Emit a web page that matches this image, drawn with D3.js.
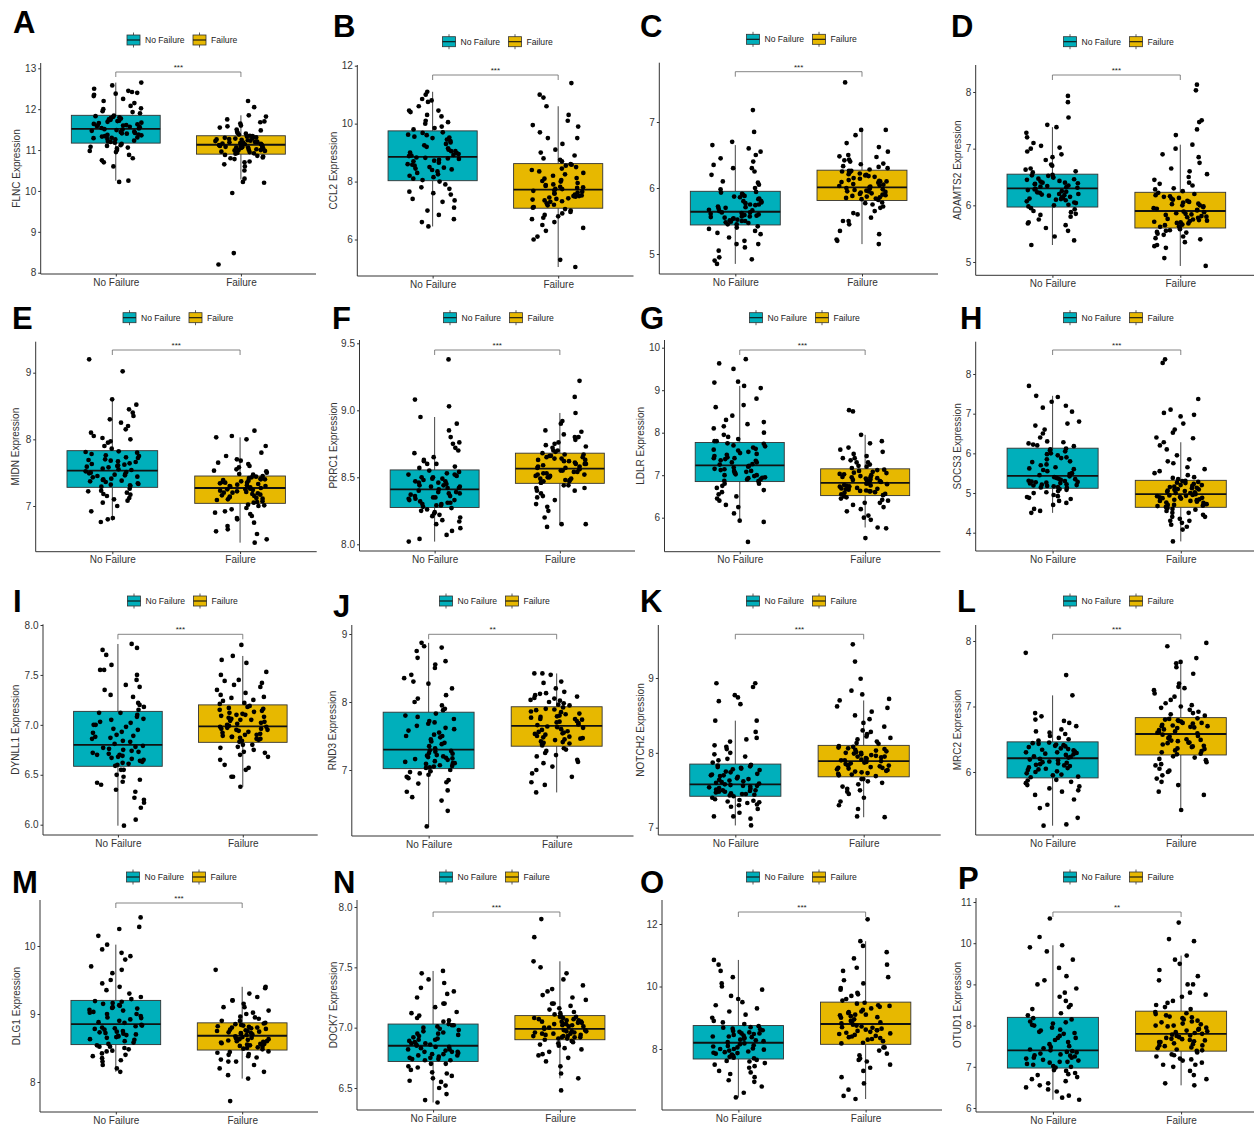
<!DOCTYPE html>
<html><head><meta charset="utf-8">
<script src="https://cdn.jsdelivr.net/npm/d3@7"></script>
<style>
body{margin:0;background:#fff}
svg{display:block}
text{font-family:"Liberation Sans",Arial,sans-serif}
</style>
</head><body>
<svg id="chart" width="1254" height="1127"></svg>
<script>
// ---------------- DATA ----------------
const groups = ["No Failure", "Failure"];
const groupColors = ["#00AFBB", "#E7B800"];
const panelLetters = ["A","B","C","D","E","F","G","H","I","J","K","L","M","N","O","P"];
const genes = ["FLNC","CCL2","TAGLN","ADAMTS2","MIDN","PRRC1","LDLR","SOCS3","DYNLL1","RND3","NOTCH2","MRC2","DLG1","DOCK7","LOXL1","OTUD1"];
const sigLabels = ["***","***","***","***","***","***","***","***","***","**","***","***","***","***","***","**"];
const yTicks = [
  [8,9,10,11,12,13],[6,8,10,12],[5,6,7],[5,6,7,8],
  [7,8,9],[8.0,8.5,9.0,9.5],[6,7,8,9,10],[4,5,6,7,8],
  [6.0,6.5,7.0,7.5,8.0],[7,8,9],[7,8,9],[6,7,8],
  [8,9,10],[6.5,7.0,7.5,8.0],[8,10,12],[6,7,8,9,10,11]
];
const tickDecimals = [0,0,0,0, 0,1,0,0, 1,0,0,0, 0,1,0,0];
// box statistics: [lower whisker, Q1, median, Q3, upper whisker]
const boxNoFailure = [
  [10.25,11.17,11.52,11.85,12.65],[6.45,8.03,8.85,9.75,11.1],[4.85,5.44,5.64,5.95,6.65],[5.3,5.97,6.3,6.55,7.38],
  [6.78,7.28,7.53,7.83,8.6],[8.02,8.275,8.41,8.555,8.95],[5.9,6.85,7.23,7.77,9.1],[4.5,5.12,5.43,6.13,7.45],
  [5.99,6.585,6.8,7.135,7.81],[6.17,7.02,7.3,7.85,8.87],[7.03,7.42,7.58,7.85,8.43],[5.18,5.91,6.21,6.46,7.17],
  [8.15,8.55,8.85,9.2,10.02],[6.38,6.72,6.85,7.03,7.47],[6.45,7.68,8.2,8.75,10.85],[6.2,6.97,7.4,8.2,9.95]
];
const boxFailure = [
  [10.28,10.9,11.13,11.35,11.85],[5.05,7.08,7.72,8.62,10.6],[5.15,5.81,6.01,6.27,6.88],[4.93,5.6,5.9,6.23,7.07],
  [6.45,7.04,7.27,7.45,8.03],[8.15,8.455,8.565,8.68,8.98],[5.77,6.52,6.82,7.15,7.95],[3.78,4.64,4.97,5.32,6.28],
  [6.38,6.825,6.985,7.2,7.69],[6.67,7.35,7.65,7.93,8.42],[7.14,7.68,7.89,8.1,8.7],[5.42,6.26,6.58,6.83,7.68],
  [8.05,8.47,8.68,8.87,9.4],[6.58,6.9,6.99,7.1,7.55],[6.4,8.15,8.8,9.5,11.45],[6.55,7.38,7.8,8.35,9.7]
];

// sample points (estimated from the jittered dots)
const flncNF = [10.25,10.22,10.6,10.7,10.8,10.88,10.95,11.0,11.04,11.08,11.12,11.15,11.2,11.23,11.27,11.3,11.33,11.36,11.4,11.42,11.45,11.47,11.5,11.38,11.54,11.57,11.6,11.63,11.66,11.69,11.72,11.75,11.78,11.8,11.83,11.6,11.9,11.95,12.0,12.08,12.15,12.25,12.32,12.38,12.42,12.45,12.5,12.58,12.65,12.4,
  11.18,11.21,11.26,11.29,11.31,11.34,11.37,11.41,11.44,11.49,11.51,11.53,11.56,11.59,11.61,11.64,11.67,11.71,11.74,11.77,11.81,11.84,10.98,11.06,11.1,10.75,11.93,12.02,12.2,12.35];
const flncF = [8.2,8.48,9.95,10.2,10.22,10.3,10.5,10.6,10.7,10.78,10.82,10.86,10.88,10.92,10.95,10.98,11.0,11.03,11.05,11.07,11.09,11.1,11.12,11.06,11.0,11.14,11.16,11.18,11.2,11.22,11.24,11.26,11.28,11.3,11.32,11.34,11.2,11.38,11.42,11.45,11.5,11.55,11.6,11.65,11.7,11.75,11.82,11.85,12.05,12.2,
  10.91,10.93,10.96,10.99,11.01,11.04,11.06,11.08,11.11,11.13,11.15,11.17,11.19,11.21,11.23,11.25,11.27,11.29,11.31,11.33,11.35,11.02,11.09,10.8,10.84,10.72,10.65,11.4,11.48,11.58,11.68];
const ccl2NF = [6.45,6.6,6.7,6.85,7.1,7.3,7.4,7.55,7.65,7.8,7.9,8.0,8.1,8.2,8.3,8.4,8.5,8.55,8.6,8.7,8.75,8.8,8.83,8.45,8.9,8.95,9.0,9.1,9.2,9.3,9.4,9.5,9.55,9.6,9.7,9.05,9.8,9.9,10.0,10.1,10.25,10.4,10.45,10.6,10.75,10.85,11.0,11.1,10.45,
  8.05,8.15,8.25,8.35,8.42,8.48,8.58,8.65,8.72,8.78,8.82,8.88,8.92,8.98,9.05,9.15,9.25,9.35,9.45,9.52,9.62,9.68,7.6,7.75,7.35,7.0,9.85,10.05,10.3,10.8];
const ccl2F = [5.05,5.3,6.0,6.1,6.3,6.4,6.6,6.7,6.8,6.9,7.0,7.05,7.1,7.2,7.3,7.35,7.4,7.45,7.5,7.55,7.6,7.65,7.7,7.5,7.75,7.8,7.9,8.0,8.05,8.1,8.2,8.3,8.4,8.5,8.55,8.6,7.85,8.7,8.8,8.9,9.1,9.3,9.5,9.7,9.9,10.1,10.3,10.6,10.9,11.0,11.4,
  7.12,7.18,7.25,7.32,7.38,7.42,7.48,7.52,7.58,7.62,7.68,7.74,7.78,7.82,7.88,7.95,8.02,8.12,8.25,8.35,8.45,8.58,6.95,6.85,6.75,6.5,8.75,9.0,9.5,9.95];
const taglnNF = [4.85,4.9,4.92,4.95,5.05,5.1,5.15,5.2,5.3,5.35,5.4,5.42,5.45,5.48,5.5,5.52,5.54,5.56,5.58,5.6,5.62,5.63,5.5,5.57,5.66,5.7,5.72,5.75,5.78,5.8,5.83,5.86,5.88,5.9,5.93,5.75,6.0,6.05,6.1,6.2,6.25,6.3,6.35,6.45,6.5,6.6,6.65,6.7,6.85,7.18,
  5.45,5.47,5.49,5.51,5.53,5.55,5.57,5.59,5.61,5.63,5.65,5.67,5.69,5.71,5.74,5.77,5.8,5.84,5.87,5.91,5.94,5.38,5.32,5.25,5.15,5.98,6.08,6.3,6.55,6.4];
const taglnF = [5.15,5.2,5.22,5.3,5.35,5.45,5.5,5.55,5.6,5.65,5.7,5.75,5.78,5.83,5.86,5.88,5.9,5.92,5.94,5.96,5.98,6.0,5.85,5.95,6.03,6.05,6.08,6.1,6.12,6.15,6.18,6.2,6.22,6.25,6.26,6.1,6.3,6.33,6.37,6.4,6.43,6.47,6.5,6.55,6.62,6.68,6.8,6.88,6.88,7.6,
  5.82,5.84,5.87,5.89,5.91,5.93,5.95,5.97,5.99,6.01,6.02,6.04,6.06,6.09,6.11,6.14,6.17,6.19,6.21,6.24,6.26,5.77,5.72,5.62,5.5,6.28,6.32,6.36,6.42,6.48];
const adamts2NF = [5.3,5.38,5.45,5.55,5.6,5.65,5.7,5.8,5.85,5.9,5.93,5.95,6.0,6.05,6.1,6.13,6.15,6.18,6.2,6.23,6.25,6.28,6.12,6.2,6.32,6.35,6.38,6.4,6.42,6.45,6.47,6.5,6.52,6.54,6.4,6.33,6.6,6.65,6.72,6.8,6.85,6.9,7.0,7.05,7.1,7.2,7.28,7.38,7.42,7.55,7.82,7.93,
  5.98,6.01,6.04,6.07,6.09,6.11,6.14,6.17,6.19,6.22,6.24,6.27,6.29,6.31,6.34,6.37,6.39,6.43,6.46,6.49,6.53,5.88,5.83,5.75,5.68,6.58,6.63,6.7,6.95,7.02];
const adamts2F = [4.93,5.07,5.25,5.28,5.3,5.35,5.4,5.45,5.5,5.52,5.55,5.58,5.62,5.65,5.68,5.7,5.73,5.75,5.78,5.8,5.83,5.85,5.88,5.72,5.92,5.95,5.98,6.0,6.03,6.06,6.1,6.13,6.16,6.2,6.22,6.05,6.28,6.35,6.4,6.45,6.55,6.65,6.75,6.85,6.9,7.0,7.07,7.24,7.34,7.47,7.5,8.03,8.13,
  5.61,5.63,5.66,5.69,5.71,5.74,5.76,5.79,5.81,5.84,5.86,5.89,5.91,5.94,5.97,6.0,6.02,6.08,6.12,6.15,6.18,5.56,5.53,5.48,5.42,6.25,6.3,6.38,6.5,6.6];
const midnNF = [6.76,6.8,6.82,6.92,7.0,7.05,7.1,7.15,7.18,7.2,7.23,7.26,7.3,7.33,7.36,7.4,7.43,7.45,7.48,7.5,7.52,7.38,7.46,7.32,7.55,7.58,7.6,7.63,7.66,7.68,7.7,7.73,7.76,7.8,7.82,7.62,7.9,7.97,8.0,8.05,8.15,8.2,8.3,8.35,8.4,8.45,8.52,8.6,9.02,9.2,
  7.29,7.31,7.34,7.37,7.39,7.41,7.44,7.47,7.49,7.51,7.54,7.56,7.59,7.61,7.64,7.67,7.69,7.72,7.75,7.78,7.81,7.22,7.17,7.12,7.08,7.86,7.95,8.02,8.1,8.25];
const midnF = [6.45,6.5,6.58,6.65,6.7,6.75,6.8,6.85,6.9,6.95,7.0,7.02,7.06,7.1,7.12,7.15,7.18,7.2,7.22,7.24,7.26,7.14,7.2,7.25,7.28,7.3,7.32,7.34,7.36,7.38,7.4,7.42,7.44,7.3,7.35,7.4,7.48,7.52,7.55,7.6,7.65,7.7,7.75,7.8,7.9,8.0,8.03,8.05,8.13,
  7.05,7.07,7.09,7.11,7.13,7.16,7.17,7.19,7.21,7.23,7.25,7.27,7.29,7.31,7.33,7.35,7.37,7.39,7.41,7.43,7.45,7.01,6.97,6.92,6.88,7.47,7.5,7.53,7.58,7.63,7.68,6.82,6.62];
const prrc1NF = [8.02,8.04,8.07,8.1,8.12,8.15,8.18,8.2,8.22,8.24,8.26,8.27,8.29,8.31,8.33,8.35,8.36,8.38,8.39,8.4,8.3,8.34,8.37,8.32,8.42,8.44,8.46,8.48,8.49,8.5,8.52,8.54,8.45,8.47,8.5,8.43,8.58,8.6,8.62,8.65,8.7,8.72,8.76,8.8,8.85,8.9,8.95,9.03,9.08,9.38,
  8.28,8.29,8.3,8.31,8.33,8.34,8.35,8.36,8.38,8.39,8.41,8.42,8.43,8.44,8.46,8.47,8.49,8.51,8.52,8.53,8.55,8.25,8.23,8.21,8.17,8.57,8.6,8.63,8.68,8.75];
const prrc1F = [8.13,8.15,8.15,8.2,8.25,8.28,8.3,8.33,8.36,8.38,8.4,8.42,8.44,8.46,8.48,8.5,8.52,8.53,8.54,8.55,8.56,8.49,8.51,8.47,8.57,8.58,8.6,8.61,8.62,8.63,8.64,8.65,8.66,8.67,8.6,8.64,8.7,8.72,8.74,8.76,8.78,8.8,8.82,8.85,8.9,8.92,8.98,9.1,9.22,
  8.46,8.47,8.48,8.49,8.5,8.51,8.52,8.53,8.54,8.55,8.56,8.57,8.58,8.59,8.6,8.62,8.63,8.65,8.66,8.67,8.68,8.44,8.42,8.4,8.35,8.69,8.7,8.73,8.75,8.8,8.84];
const ldlrNF = [5.43,5.9,5.93,6.1,6.25,6.3,6.4,6.5,6.55,6.6,6.7,6.8,6.87,6.9,6.95,7.0,7.05,7.1,7.12,7.15,7.2,7.0,7.08,6.93,7.25,7.3,7.35,7.4,7.45,7.5,7.55,7.6,7.65,7.7,7.75,7.4,7.8,7.9,8.0,8.1,8.2,8.25,8.4,8.6,8.65,8.8,9.05,9.1,9.18,9.2,9.5,9.63,9.73,
  6.86,6.9,6.94,6.98,7.02,7.06,7.1,7.14,7.18,7.22,7.26,7.3,7.34,7.38,7.42,7.48,7.52,7.58,7.62,7.68,7.74,6.8,6.75,6.65,6.45,7.8,7.85,7.95,8.15,8.3];
const ldlrF = [5.52,5.75,5.77,5.95,6.0,6.05,6.15,6.2,6.3,6.35,6.4,6.45,6.5,6.55,6.6,6.63,6.66,6.7,6.73,6.76,6.8,6.68,6.75,6.62,6.85,6.88,6.9,6.93,6.96,7.0,7.03,7.06,7.1,7.13,6.95,7.05,7.2,7.25,7.3,7.35,7.4,7.45,7.5,7.6,7.65,7.75,7.8,7.95,8.5,8.53,
  6.53,6.56,6.59,6.62,6.64,6.67,6.69,6.72,6.74,6.77,6.79,6.81,6.84,6.86,6.89,6.92,6.95,6.98,7.02,7.08,7.12,6.48,6.42,6.35,6.25,7.17,7.22,7.3,7.4,7.55];
const socs3NF = [4.5,4.55,4.6,4.7,4.75,4.8,4.88,4.9,4.95,5.0,5.05,5.1,5.14,5.17,5.2,5.22,5.25,5.28,5.3,5.33,5.36,5.4,5.18,5.26,5.48,5.55,5.6,5.65,5.72,5.8,5.85,5.9,5.95,6.0,6.08,6.12,6.2,6.25,6.3,6.5,6.6,6.7,6.8,7.05,7.15,7.2,7.3,7.45,7.42,7.7,
  5.13,5.15,5.19,5.21,5.24,5.27,5.29,5.31,5.35,5.38,5.42,5.45,5.5,5.58,5.62,5.7,5.78,5.88,5.98,6.05,6.1,5.08,5.02,4.92,4.85,6.18,6.22,6.28,6.4,6.75];
const socs3F = [3.78,4.08,4.15,4.2,4.25,4.3,4.35,4.4,4.45,4.5,4.55,4.6,4.68,4.72,4.76,4.8,4.84,4.88,4.9,4.93,4.95,4.7,4.82,4.87,5.0,5.03,5.06,5.1,5.13,5.16,5.2,5.23,5.26,5.3,5.08,5.18,5.38,5.45,5.55,5.65,5.75,5.85,5.95,6.1,6.2,6.28,6.38,6.4,6.52,6.6,6.75,6.93,6.97,7.02,7.1,7.37,8.28,8.37,
  4.65,4.67,4.7,4.72,4.75,4.78,4.8,4.83,4.86,4.89,4.92,4.94,4.97,5.0,5.02,5.05,5.09,5.12,5.15,5.2,5.25,5.28,5.31,4.62,4.58,4.5,4.4,4.3,5.35,5.4,5.5,5.6,5.8];
const dynll1NF = [5.99,6.05,6.17,6.22,6.25,6.27,6.33,6.4,6.43,6.45,6.5,6.55,6.6,6.63,6.65,6.68,6.7,6.72,6.74,6.76,6.78,6.66,6.7,6.62,6.83,6.86,6.9,6.93,6.96,7.0,7.03,7.06,7.1,7.12,6.88,7.0,7.18,7.22,7.3,7.35,7.4,7.45,7.5,7.55,7.6,7.7,7.75,7.77,7.81,
  6.59,6.61,6.64,6.67,6.69,6.71,6.73,6.75,6.77,6.79,6.81,6.84,6.87,6.89,6.92,6.95,6.98,7.02,7.05,7.08,7.12,6.55,6.48,6.42,6.35,7.15,7.2,7.28,7.38,7.55];
const dynll1F = [6.38,6.48,6.48,6.55,6.57,6.6,6.65,6.7,6.72,6.75,6.78,6.8,6.84,6.87,6.9,6.92,6.94,6.96,6.97,6.98,6.86,6.9,6.95,6.88,7.0,7.02,7.04,7.06,7.08,7.1,7.12,7.14,7.16,7.18,7.05,7.1,7.22,7.25,7.28,7.3,7.35,7.4,7.42,7.45,7.5,7.53,7.62,7.65,7.69,7.8,
  6.83,6.85,6.86,6.88,6.89,6.91,6.93,6.95,6.96,6.98,6.99,7.01,7.03,7.05,7.07,7.09,7.11,7.13,7.15,7.17,7.19,6.8,6.77,6.73,6.68,7.21,7.24,7.27,7.32,7.38,7.44];
const rnd3NF = [6.17,6.4,6.55,6.6,6.68,6.7,6.8,6.85,6.9,6.93,6.97,7.0,7.04,7.07,7.1,7.13,7.16,7.2,7.22,7.25,7.28,7.1,7.18,7.05,7.35,7.4,7.42,7.48,7.5,7.55,7.6,7.65,7.7,7.75,7.8,7.5,7.9,8.0,8.1,8.2,8.27,8.35,8.4,8.55,8.6,8.65,8.75,8.8,8.82,8.87,
  7.03,7.06,7.09,7.12,7.15,7.17,7.19,7.21,7.24,7.27,7.29,7.32,7.38,7.45,7.52,7.58,7.62,7.68,7.72,7.78,7.83,6.98,6.95,6.88,6.82,7.88,7.95,8.05,8.3,8.5];
const rnd3F = [6.67,6.78,6.82,6.9,6.95,7.0,7.05,7.1,7.15,7.2,7.25,7.3,7.38,7.42,7.45,7.48,7.5,7.53,7.56,7.6,7.63,7.4,7.47,7.55,7.67,7.7,7.72,7.75,7.78,7.8,7.83,7.86,7.88,7.9,7.92,7.75,7.95,8.0,8.03,8.05,8.08,8.1,8.13,8.15,8.2,8.28,8.3,8.4,8.42,8.42,
  7.36,7.39,7.41,7.44,7.46,7.49,7.52,7.54,7.57,7.59,7.62,7.64,7.66,7.69,7.71,7.74,7.77,7.79,7.82,7.85,7.89,7.32,7.28,7.22,7.12,7.96,7.98,8.02,8.06,8.12];
const notch2NF = [7.03,7.12,7.15,7.15,7.2,7.25,7.28,7.3,7.33,7.35,7.37,7.4,7.43,7.45,7.47,7.5,7.52,7.53,7.55,7.56,7.57,7.48,7.5,7.45,7.6,7.62,7.65,7.68,7.7,7.72,7.75,7.78,7.8,7.82,7.84,7.7,7.9,7.95,8.0,8.05,8.1,8.15,8.2,8.28,8.43,8.43,8.65,8.69,8.74,8.77,8.88,8.93,8.93,
  7.42,7.44,7.46,7.48,7.49,7.51,7.54,7.56,7.58,7.59,7.61,7.63,7.64,7.66,7.69,7.71,7.74,7.77,7.79,7.81,7.83,7.38,7.36,7.34,7.31,7.87,7.92,7.98,8.08,8.18];
const notch2F = [7.14,7.15,7.25,7.3,7.35,7.4,7.45,7.48,7.5,7.55,7.6,7.65,7.7,7.72,7.75,7.77,7.8,7.82,7.84,7.86,7.88,7.78,7.83,7.74,7.9,7.92,7.94,7.96,7.98,8.0,8.02,8.04,8.06,8.08,7.95,8.0,8.12,8.15,8.2,8.25,8.3,8.35,8.45,8.5,8.55,8.6,8.62,8.7,8.72,8.78,8.83,8.99,9.22,9.45,
  7.69,7.71,7.73,7.76,7.79,7.81,7.83,7.85,7.87,7.89,7.91,7.93,7.95,7.97,7.99,8.01,8.03,8.05,8.07,8.09,7.8,7.9,7.65,7.62,7.58,7.52,8.13,8.18,8.22,8.28,8.4];
const mrc2NF = [5.18,5.2,5.3,5.45,5.5,5.58,5.65,5.7,5.75,5.8,5.85,5.88,5.93,5.96,6.0,6.03,6.06,6.1,6.13,6.15,6.18,6.2,6.05,6.12,6.23,6.26,6.28,6.3,6.33,6.35,6.38,6.4,6.42,6.44,6.45,6.3,6.5,6.55,6.6,6.65,6.7,6.75,6.8,6.85,6.9,7.17,7.48,7.82,
  5.92,5.95,5.98,6.01,6.04,6.07,6.09,6.11,6.14,6.16,6.19,6.22,6.24,6.27,6.29,6.31,6.34,6.36,6.39,6.41,6.43,5.87,5.83,5.78,5.72,6.48,6.52,6.58,6.62,6.78];
const mrc2F = [5.42,5.65,5.7,5.8,5.85,5.9,5.95,6.0,6.05,6.1,6.15,6.2,6.24,6.28,6.32,6.35,6.4,6.45,6.48,6.5,6.52,6.55,6.38,6.45,6.6,6.62,6.65,6.68,6.7,6.72,6.75,6.78,6.8,6.82,6.7,6.75,6.88,6.92,6.95,7.0,7.05,7.1,7.2,7.25,7.3,7.35,7.5,7.6,7.66,7.68,7.74,7.92,7.97,
  6.27,6.3,6.33,6.36,6.39,6.42,6.44,6.47,6.49,6.51,6.54,6.57,6.59,6.61,6.64,6.67,6.69,6.71,6.74,6.77,6.79,6.81,6.22,6.18,6.12,6.02,6.86,6.9,6.98,7.02,7.15,7.28];
const dlg1NF = [8.15,8.2,8.25,8.3,8.35,8.38,8.42,8.45,8.48,8.5,8.52,8.54,8.58,8.62,8.65,8.68,8.7,8.72,8.75,8.78,8.8,8.83,8.66,8.74,8.88,8.92,8.95,9.0,9.03,9.06,9.1,9.13,9.16,9.18,9.0,9.08,9.25,9.3,9.4,9.5,9.6,9.7,9.8,9.9,9.95,10.02,10.15,10.25,10.28,10.42,
  8.56,8.6,8.63,8.67,8.69,8.71,8.73,8.77,8.79,8.82,8.84,8.87,8.9,8.94,8.97,9.02,9.05,9.09,9.12,9.15,9.19,8.52,8.46,8.4,8.32,9.22,9.35,9.45,9.65,9.85];
const dlg1F = [7.72,8.05,8.1,8.15,8.2,8.25,8.3,8.33,8.36,8.4,8.43,8.45,8.5,8.53,8.55,8.58,8.6,8.62,8.64,8.66,8.56,8.6,8.63,8.52,8.7,8.72,8.74,8.76,8.78,8.8,8.82,8.84,8.86,8.75,8.8,8.72,8.9,8.93,8.96,9.0,9.05,9.1,9.15,9.2,9.25,9.3,9.38,9.4,9.65,
  8.48,8.49,8.51,8.54,8.56,8.57,8.59,8.61,8.63,8.65,8.67,8.69,8.71,8.73,8.75,8.77,8.79,8.81,8.83,8.85,8.87,8.44,8.41,8.38,8.3,8.9,8.95,9.02,9.1,9.2];
const dock7NF = [6.38,6.4,6.45,6.5,6.52,6.55,6.58,6.6,6.63,6.65,6.68,6.7,6.73,6.75,6.76,6.78,6.79,6.8,6.82,6.83,6.84,6.77,6.8,6.74,6.86,6.88,6.9,6.92,6.94,6.96,6.98,7.0,7.02,6.9,6.95,6.87,7.06,7.1,7.13,7.17,7.2,7.25,7.3,7.33,7.37,7.4,7.45,7.47,
  6.73,6.74,6.75,6.77,6.78,6.8,6.81,6.82,6.84,6.85,6.86,6.87,6.89,6.91,6.93,6.95,6.97,6.99,7.01,7.02,7.03,6.7,6.67,6.62,6.56,7.05,7.08,7.12,7.2,7.28];
const dock7F = [6.48,6.58,6.62,6.68,6.72,6.75,6.78,6.8,6.83,6.85,6.87,6.89,6.91,6.92,6.93,6.94,6.95,6.96,6.97,6.98,6.93,6.95,6.97,6.92,7.0,7.01,7.02,7.03,7.04,7.05,7.06,7.07,7.08,7.09,7.03,7.05,7.12,7.15,7.18,7.2,7.23,7.27,7.3,7.35,7.4,7.45,7.5,7.55,7.75,7.9,
  6.9,6.91,6.92,6.93,6.94,6.95,6.96,6.97,6.98,6.99,7.0,7.01,7.02,7.03,7.04,7.05,7.06,7.07,7.08,7.09,7.1,6.88,6.86,6.82,6.77,7.11,7.13,7.16,7.2,7.25,7.32];
const loxl1NF = [6.45,6.6,6.8,6.95,7.1,7.2,7.3,7.4,7.5,7.55,7.6,7.65,7.72,7.78,7.85,7.9,7.95,8.0,8.05,8.1,8.15,7.88,8.0,7.8,8.25,8.3,8.35,8.4,8.45,8.5,8.55,8.6,8.65,8.7,8.4,8.5,8.8,8.9,9.0,9.2,9.4,9.5,9.7,9.9,10.1,10.3,10.5,10.7,10.85,
  7.7,7.75,7.82,7.87,7.92,7.98,8.02,8.08,8.12,8.18,8.22,8.28,8.33,8.38,8.43,8.48,8.53,8.58,8.63,8.68,8.73,7.62,7.45,7.25,7.0,8.85,9.1,9.3,9.6,10.0];
const loxl1F = [6.4,6.5,6.7,6.9,7.1,7.3,7.5,7.6,7.7,7.8,7.95,8.05,8.2,8.3,8.4,8.45,8.5,8.55,8.6,8.65,8.7,8.75,8.35,8.6,8.85,8.9,9.0,9.05,9.1,9.15,9.2,9.3,9.35,9.4,9.45,9.1,9.6,9.7,9.8,9.95,10.1,10.3,10.5,10.7,10.9,11.1,11.3,11.45,12.15,
  8.18,8.25,8.32,8.38,8.42,8.48,8.52,8.58,8.62,8.68,8.72,8.78,8.82,8.88,8.95,9.02,9.08,9.18,9.25,9.38,9.48,8.05,7.85,7.65,7.4,9.55,9.75,9.9,10.2,10.6];
const otud1NF = [6.2,6.25,6.3,6.4,6.45,6.5,6.6,6.7,6.75,6.8,6.85,6.9,7.0,7.05,7.1,7.15,7.2,7.25,7.28,7.3,7.35,7.38,7.12,7.22,7.45,7.5,7.6,7.7,7.8,7.85,7.9,8.0,8.05,8.1,8.15,7.7,8.3,8.4,8.5,8.7,8.9,9.0,9.2,9.4,9.6,9.8,9.9,9.95,10.15,10.6,
  6.98,7.02,7.07,7.12,7.17,7.22,7.27,7.32,7.36,7.4,7.42,7.48,7.55,7.65,7.75,7.82,7.88,7.95,8.02,8.08,8.18,6.92,6.82,6.65,6.55,8.25,8.45,8.6,8.8,9.1];
const otud1F = [6.55,6.6,6.7,6.8,6.9,7.0,7.05,7.1,7.15,7.2,7.25,7.3,7.4,7.45,7.5,7.55,7.6,7.62,7.65,7.7,7.75,7.78,7.52,7.68,7.82,7.86,7.9,7.95,8.0,8.05,8.1,8.15,8.2,8.25,8.3,8.0,8.4,8.5,8.6,8.7,8.8,9.0,9.1,9.2,9.35,9.5,9.6,9.7,10.05,10.1,10.5,
  7.39,7.42,7.47,7.52,7.57,7.6,7.64,7.67,7.72,7.76,7.8,7.84,7.88,7.92,7.98,8.03,8.08,8.12,8.18,8.22,8.28,8.33,7.35,7.28,7.18,7.05,8.45,8.55,8.75,9.0];

const pointsNoFailure = [flncNF,ccl2NF,taglnNF,adamts2NF,midnNF,prrc1NF,ldlrNF,socs3NF,dynll1NF,rnd3NF,notch2NF,mrc2NF,dlg1NF,dock7NF,loxl1NF,otud1NF];
const pointsFailure = [flncF,ccl2F,taglnF,adamts2F,midnF,prrc1F,ldlrF,socs3F,dynll1F,rnd3F,notch2F,mrc2F,dlg1F,dock7F,loxl1F,otud1F];

// ---------------- LAYOUT (pixels) ----------------
const layout = [
  {L:40.7,R:316,T:63,B:274,v1:13,p1:68.3,v2:8,p2:272.7,lx:183.5,ly:40,br:72,ltx:13,lty:33,ytx:16},
  {L:357.3,R:633.5,T:65,B:276,v1:12,p1:65.7,v2:6,p2:239.5,lx:499,ly:41.7,br:75,ltx:333,lty:37,ytx:333},
  {L:659.3,R:938,T:62.7,B:274,v1:7,p1:122,v2:5,p2:254,lx:803,ly:39.3,br:71.7,ltx:640,lty:37,ytx:639.5,clip:true},
  {L:975.7,R:1257,T:65,B:275.3,v1:8,p1:92,v2:5,p2:262,lx:1120,ly:41.7,br:75,ltx:951,lty:37,ytx:957},
  {L:35.7,R:316.7,T:341.7,B:551.7,v1:9,p1:372.7,v2:7,p2:506,lx:179.5,ly:317.7,br:350,ltx:12,lty:329,ytx:15},
  {L:359.5,R:635,T:340,B:551,v1:9.5,p1:343.3,v2:8.0,p2:544.3,lx:500,ly:317.7,br:350,ltx:332,lty:329,ytx:333},
  {L:664.5,R:940.4,T:340,B:551.7,v1:10,p1:347.7,v2:6,p2:517.7,lx:806,ly:317.7,br:350,ltx:640,lty:329,ytx:640},
  {L:975.7,R:1257.7,T:341.7,B:551,v1:8,p1:374,v2:4,p2:532.7,lx:1120,ly:317.7,br:350,ltx:960,lty:329,ytx:957},
  {L:43,R:317.7,T:624.3,B:835,v1:8.0,p1:625,v2:6.0,p2:824.7,lx:184,ly:601,br:634.3,ltx:13,lty:612,ytx:15},
  {L:351.8,R:633.5,T:625,B:836,v1:9,p1:634,v2:7,p2:770,lx:496,ly:601,br:634.3,ltx:333,lty:617,ytx:332},
  {L:658.3,R:940.7,T:625,B:835,v1:9,p1:678,v2:7,p2:827.7,lx:803,ly:601,br:634.3,ltx:640,lty:612,ytx:640},
  {L:975.7,R:1257.7,T:625,B:835,v1:8,p1:641,v2:6,p2:772,lx:1120,ly:601,br:634.3,ltx:957,lty:612,ytx:957},
  {L:40,R:318,T:900,B:1112,v1:10,p1:946,v2:8,p2:1082,lx:183,ly:877,br:903,ltx:12,lty:893,ytx:16},
  {L:357,R:636,T:900,B:1110,v1:8.0,p1:907,v2:6.5,p2:1088,lx:496,ly:877,br:912,ltx:333,lty:893,ytx:333},
  {L:662,R:942,T:900,B:1110,v1:12,p1:924,v2:8,p2:1049,lx:803,ly:877,br:912,ltx:640,lty:893,ytx:639.5,clip:true},
  {L:976,R:1258,T:898,B:1112,v1:11,p1:902,v2:6,p2:1108,lx:1120,ly:877,br:912,ltx:958,lty:889,ytx:957}
];

const svg = d3.select("#chart");
svg.append("defs").append("clipPath").attr("id","cutLeft").append("rect")
  .attr("x",640).attr("y",0).attr("width",614).attr("height",1127);

const axisColor = "#333";
// deterministic horizontal jitter (layout only)
const jit = (i, s) => { const v = Math.sin(i * 12.9898 + s * 78.233) * 43758.5453; return (v - Math.floor(v)) * 2 - 1; };

panelLetters.forEach((letter, p) => {
  const lay = layout[p];
  const g = svg.append("g");
  const x = d3.scaleLinear().domain([0.4, 2.6]).range([lay.L, lay.R]);
  const unit = x(2) - x(1);
  const y = d3.scaleLinear().domain([lay.v1, lay.v2]).range([lay.p1, lay.p2]);
  const boxW = unit * 0.71;

  g.append("text").attr("x", lay.ltx).attr("y", lay.lty)
    .attr("font-size", 31).attr("font-weight", "bold").attr("fill", "#000").text(letter);

  // legend
  const lg = g.append("g").attr("transform", `translate(${lay.lx},${lay.ly})`);
  const keyOff = [-56.5, 9.5], txtOff = [-38.5, 27.5];
  groups.forEach((grp, k) => {
    const kx = keyOff[k];
    lg.append("line").attr("x1", kx + 6.5).attr("x2", kx + 6.5).attr("y1", -7.5).attr("y2", 7.5)
      .attr("stroke", axisColor).attr("stroke-width", 0.8);
    lg.append("rect").attr("x", kx).attr("y", -5).attr("width", 13).attr("height", 10)
      .attr("fill", groupColors[k]).attr("stroke", axisColor).attr("stroke-width", 0.8);
    lg.append("line").attr("x1", kx).attr("x2", kx + 13).attr("y1", 0).attr("y2", 0)
      .attr("stroke", "#111").attr("stroke-width", 1.1);
    lg.append("text").attr("x", txtOff[k]).attr("y", 3).attr("font-size", 8.6)
      .attr("fill", "#222").text(grp);
  });

  // axes
  const fmt = d3.format(tickDecimals[p] ? ".1f" : "d");
  const yAxis = g.append("g").attr("transform", `translate(${lay.L},0)`)
    .call(d3.axisLeft(y).tickValues(yTicks[p]).tickFormat(fmt).tickSize(2.5).tickSizeOuter(0).tickPadding(2));
  yAxis.select(".domain").remove();
  yAxis.selectAll("text").attr("font-size", 10).attr("fill", axisColor).attr("font-family", "Liberation Sans, Arial, sans-serif");
  yAxis.selectAll("line").attr("stroke", axisColor);
  g.append("line").attr("x1", lay.L).attr("x2", lay.L).attr("y1", lay.T).attr("y2", lay.B)
    .attr("stroke", axisColor).attr("stroke-width", 1);

  const xAxis = g.append("g").attr("transform", `translate(0,${lay.B})`)
    .call(d3.axisBottom(x).tickValues([1, 2]).tickFormat(i => groups[i - 1]).tickSize(2.5).tickSizeOuter(0).tickPadding(2));
  xAxis.select(".domain").remove();
  xAxis.selectAll("text").attr("font-size", 10).attr("fill", axisColor).attr("font-family", "Liberation Sans, Arial, sans-serif");
  xAxis.selectAll("line").attr("stroke", axisColor);
  g.append("line").attr("x1", lay.L).attr("x2", lay.R).attr("y1", lay.B).attr("y2", lay.B)
    .attr("stroke", axisColor).attr("stroke-width", 1);

  // y title
  const yt = g.append("text")
    .attr("transform", `translate(${lay.ytx},${(lay.T + lay.B) / 2}) rotate(-90)`)
    .attr("text-anchor", "middle").attr("dy", "0.35em")
    .attr("font-size", 10).attr("fill", axisColor).text(genes[p] + " Expression");
  if (lay.clip) yt.attr("clip-path", "url(#cutLeft)");

  // boxes
  [boxNoFailure[p], boxFailure[p]].forEach((s, k) => {
    const cx = x(k + 1);
    g.append("line").attr("x1", cx).attr("x2", cx).attr("y1", y(s[4])).attr("y2", y(s[3]))
      .attr("stroke", "#444").attr("stroke-width", 1);
    g.append("line").attr("x1", cx).attr("x2", cx).attr("y1", y(s[1])).attr("y2", y(s[0]))
      .attr("stroke", "#444").attr("stroke-width", 1);
    g.append("rect").attr("x", cx - boxW / 2).attr("width", boxW)
      .attr("y", y(s[3])).attr("height", y(s[1]) - y(s[3]))
      .attr("fill", groupColors[k]).attr("stroke", "#333").attr("stroke-width", 0.9);
    g.append("line").attr("x1", cx - boxW / 2).attr("x2", cx + boxW / 2)
      .attr("y1", y(s[2])).attr("y2", y(s[2])).attr("stroke", "#111").attr("stroke-width", 1.8);
  });

  // jittered points
  [pointsNoFailure[p], pointsFailure[p]].forEach((vals, k) => {
    const cx = x(k + 1);
    const seed = p * 2 + k + 1;
    g.append("g").selectAll("circle").data(vals).join("circle")
      .attr("cx", (d, i) => cx + jit(i + 1, seed) * 0.21 * unit)
      .attr("cy", d => y(d))
      .attr("r", 2.35).attr("fill", "#000");
  });

  // significance bracket
  const x1 = x(1), x2 = x(2);
  g.append("path")
    .attr("d", `M${x1},${lay.br + 5}V${lay.br}H${x2}V${lay.br + 5}`)
    .attr("fill", "none").attr("stroke", "#666").attr("stroke-width", 0.8);
  g.append("text").attr("x", (x1 + x2) / 2).attr("y", lay.br - 2)
    .attr("text-anchor", "middle").attr("font-size", 8).attr("fill", "#222").text(sigLabels[p]);
});
</script>
</body></html>
